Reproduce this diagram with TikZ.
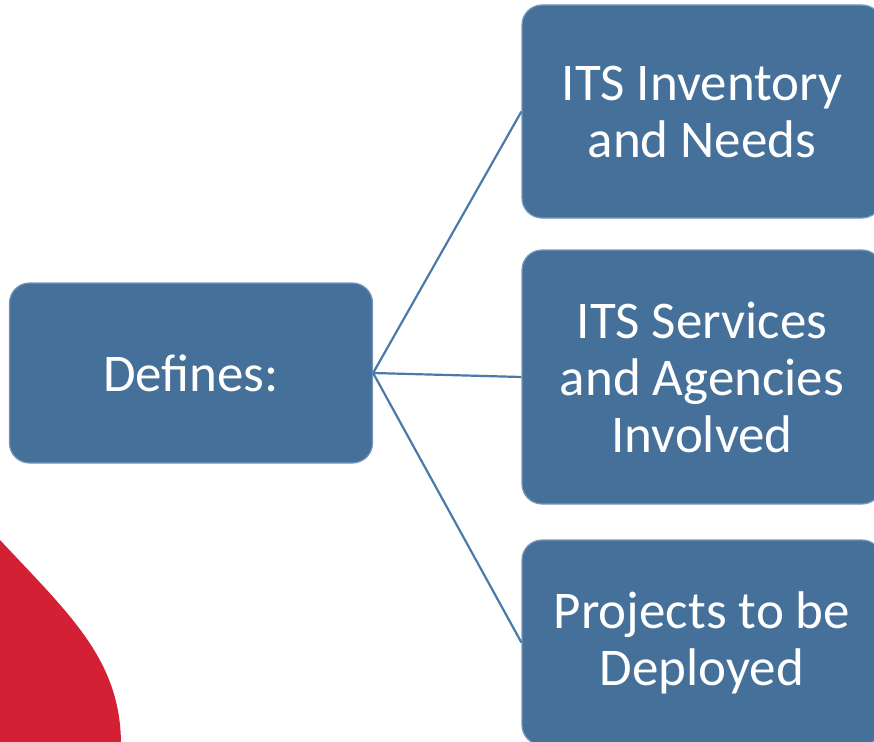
\documentclass[tikz,border=0pt]{standalone}
\usepackage{fontspec}
\setmainfont{Carlito}
\usepackage{tikz}
\usetikzlibrary{calc}

\definecolor{boxblue}{RGB}{69,112,154}
\definecolor{boxedge}{RGB}{120,152,186}
\definecolor{linkblue}{RGB}{74,122,170}
\definecolor{swoosh}{RGB}{211,32,52}

\tikzset{
	itsbox/.style={draw=boxedge, line width=1.2pt, fill=boxblue, rounded corners=20pt,
		text=white, align=center, inner sep=0pt, font=\fontsize{53}{57}\selectfont},
	link/.style={draw=linkblue, line width=2.2pt}
}

\begin{document}
\begin{tikzpicture}[x=1pt,y=-1pt]
	\useasboundingbox (0,0) rectangle (874,741);
	\fill [swoosh] (0,540) .. controls (70,615) and (121,660) .. (121,745) -- (0,745) -- cycle;
	\node [itsbox, minimum width=363pt, minimum height=180pt] (defines) at (191,373) {Defines:};
	\node [itsbox, minimum width=360pt, minimum height=213pt] (inventory) at (702,111.5) {ITS Inventory\\and Needs};
	\node [itsbox, minimum width=360pt, minimum height=254pt] (services) at (702,377) {ITS Services\\and Agencies\\Involved};
	\node [itsbox, minimum width=360pt, minimum height=205pt] (projects) at (702,642.5) {Projects to be\\Deployed};
	\draw [link] (defines.east) -- (inventory.west);
	\draw [link] (defines.east) -- (services.west);
	\draw [link] (defines.east) -- (projects.west);
\end{tikzpicture}
\end{document}
